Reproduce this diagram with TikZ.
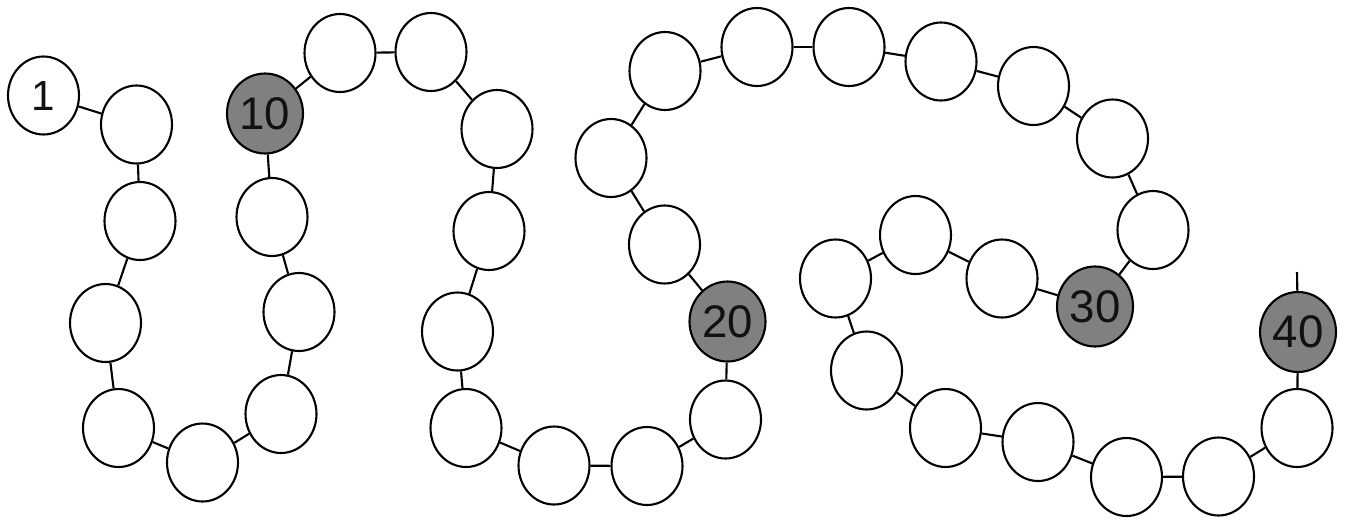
\documentclass[tikz,border=0pt]{standalone}
\usepackage{fontspec}
\setmainfont{Liberation Sans}
\usetikzlibrary{shapes.geometric}
\definecolor{beadgray}{HTML}{808080}
\definecolor{digitink}{HTML}{111111}
\tikzset{
  bead/.style={ellipse, draw=black, line width=1.2pt, fill=white, inner sep=0pt,
    minimum width=1.42cm, minimum height=1.56cm, text=digitink},
  markbead/.style={bead, fill=beadgray, minimum width=1.52cm, minimum height=1.6cm,
    font=\fontsize{26}{26}\selectfont},
  firstbead/.style={bead, font=\fontsize{24}{24}\selectfont},
  link/.style={line width=1.2pt, black}
}
\begin{document}
\begin{tikzpicture}[x=0.02cm, y=-0.02cm]
\useasboundingbox (0,0) rectangle (1348,521);
\node[firstbead] (n1) at (43.5,95.5) {1};
\node[bead] (n2) at (136.5,124.5) {};
\node[bead] (n3) at (140,221) {};
\node[bead] (n4) at (105.5,323) {};
\node[bead] (n5) at (118.5,428) {};
\node[bead] (n6) at (202.5,462.5) {};
\node[bead] (n7) at (281,414) {};
\node[bead] (n8) at (299,312) {};
\node[bead] (n9) at (272,217) {};
\node[markbead] (n10) at (265,113.5) {10};
\node[bead] (n11) at (340,53) {};
\node[bead] (n12) at (431,52) {};
\node[bead] (n13) at (497,129) {};
\node[bead] (n14) at (489,231) {};
\node[bead] (n15) at (457.5,331.5) {};
\node[bead] (n16) at (466,428) {};
\node[bead] (n17) at (554,465.5) {};
\node[bead] (n18) at (647,466) {};
\node[bead] (n19) at (725.5,419.5) {};
\node[markbead] (n20) at (727.5,321.5) {20};
\node[bead] (n21) at (664.5,244.5) {};
\node[bead] (n22) at (611,158) {};
\node[bead] (n23) at (665,71) {};
\node[bead] (n24) at (757,47) {};
\node[bead] (n25) at (849,47) {};
\node[bead] (n26) at (941,61.5) {};
\node[bead] (n27) at (1033.5,86) {};
\node[bead] (n28) at (1112.5,138.5) {};
\node[bead] (n29) at (1153,230) {};
\node[markbead] (n30) at (1095,306.5) {30};
\node[bead] (n31) at (1002,278.5) {};
\node[bead] (n32) at (915.5,235) {};
\node[bead] (n33) at (835.5,278.5) {};
\node[bead] (n34) at (866.5,370.5) {};
\node[bead] (n35) at (945.5,428) {};
\node[bead] (n36) at (1038,442) {};
\node[bead] (n37) at (1126.5,477) {};
\node[bead] (n38) at (1218.5,476.5) {};
\node[bead] (n39) at (1297,428) {};
\node[markbead] (n40) at (1298,332) {40};
\coordinate (tail) at (1297,272);
\foreach \i [evaluate=\i as \j using int(\i+1)] in {1,...,39}
  \draw[link] (n\i) -- (n\j);
\draw[link] (n40) -- (tail);
\end{tikzpicture}
\end{document}
